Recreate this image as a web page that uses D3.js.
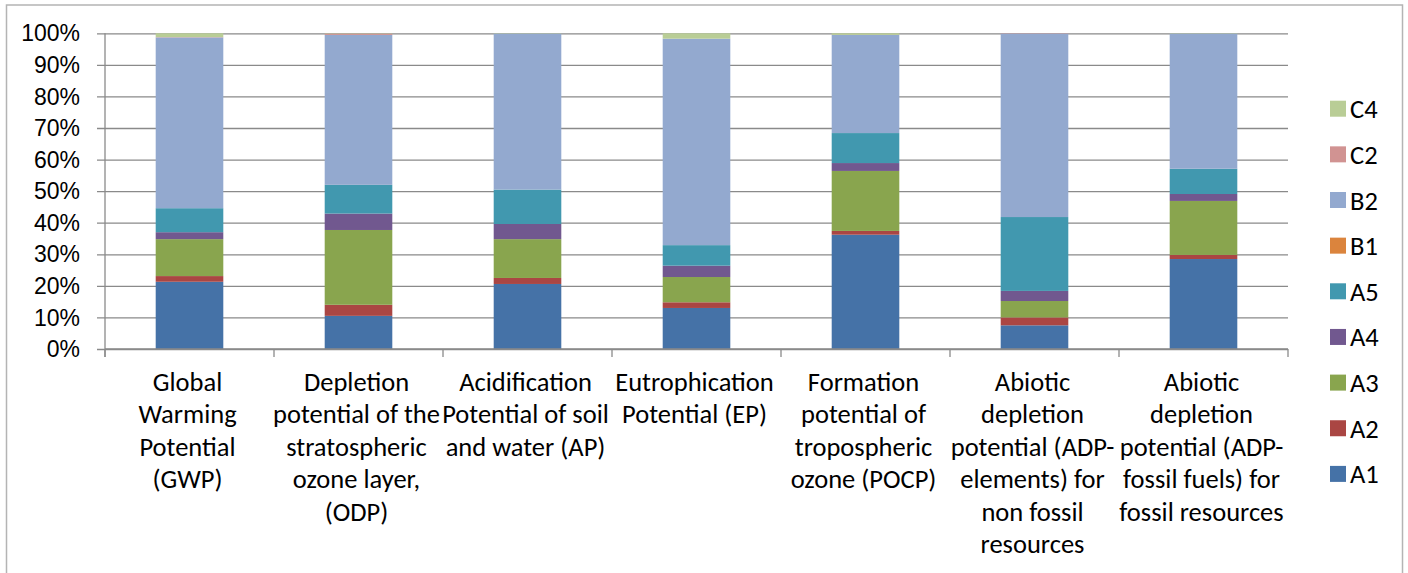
<!DOCTYPE html>
<html>
<head>
<meta charset="utf-8">
<script src="https://cdn.jsdelivr.net/npm/d3@7"></script>
<style>
  html, body { margin: 0; padding: 0; background: #fff; }
  svg { display: block; font-family: Carlito, Calibri, Lato, sans-serif; }
</style>
</head>
<body>
<svg id="chart" width="1408" height="573"></svg>
<script>
// ---- Data ----
const categories = [
  "Global Warming Potential (GWP)",
  "Depletion potential of the stratospheric ozone layer, (ODP)",
  "Acidification Potential of soil and water (AP)",
  "Eutrophication Potential (EP)",
  "Formation potential of tropospheric ozone (POCP)",
  "Abiotic depletion potential (ADP-elements) for non fossil resources",
  "Abiotic depletion potential (ADP-fossil fuels) for fossil resources"
];
const categoryLabelLines = [
  ["Global", "Warming", "Potential", "(GWP)"],
  ["Depletion", "potential of the", "stratospheric", "ozone layer,", "(ODP)"],
  ["Acidification", "Potential of soil", "and water (AP)"],
  ["Eutrophication", "Potential (EP)"],
  ["Formation", "potential of", "tropospheric", "ozone (POCP)"],
  ["Abiotic", "depletion", "potential (ADP-", "elements) for", "non fossil", "resources"],
  ["Abiotic", "depletion", "potential (ADP-", "fossil fuels) for", "fossil resources"]
];
const seriesNames = ["A1", "A2", "A3", "A4", "A5", "B1", "B2", "C2", "C4"];
const seriesColors = ["#4572A7", "#AA4643", "#89A54E", "#71588F", "#4198AF", "#DB843D", "#93A9CF", "#D19392", "#B9CD96"];
// percentage share per category (same order as categories)
const A1 = [21.3, 10.5, 20.6, 13.0, 36.2,  7.5, 28.5];
const A2 = [ 1.8,  3.5,  1.9,  1.8,  1.2,  2.5,  1.3];
const A3 = [11.7, 23.7, 12.3,  8.0, 19.0,  5.2, 17.1];
const A4 = [ 2.2,  5.2,  4.8,  3.6,  2.5,  3.2,  2.2];
const A5 = [ 7.6,  9.1, 10.9,  6.5,  9.5, 23.4,  8.0];
const B1 = [ 0.0,  0.0,  0.0,  0.0,  0.0,  0.0,  0.0];
const B2 = [54.1, 47.5, 49.4, 65.4, 31.1, 58.1, 42.8];
const C2 = [ 0.1,  0.4,  0.0,  0.0,  0.0,  0.1,  0.0];
const C4 = [ 1.2,  0.1,  0.1,  1.7,  0.5,  0.0,  0.1];
const yTickValues = [0, 0.1, 0.2, 0.3, 0.4, 0.5, 0.6, 0.7, 0.8, 0.9, 1.0];

const seriesValues = { A1, A2, A3, A4, A5, B1, B2, C2, C4 };
const table = categories.map((c, i) => {
  const row = { category: c };
  seriesNames.forEach(s => row[s] = seriesValues[s][i]);
  return row;
});

// ---- Layout ----
const svg = d3.select("#chart");
const plot = { left: 105, right: 1288, top: 33.3, bottom: 349 };
const gridColor = "#8a8a8a";
const tickFontSize = 23;
const labelFontSize = 26.5;

// outer frame
svg.append("rect")
  .attr("x", 6.5).attr("y", 5).attr("width", 1396).attr("height", 600)
  .attr("fill", "none").attr("stroke", "#b4b4b4").attr("stroke-width", 1.5);

const x = d3.scaleBand().domain(categories)
  .range([plot.left, plot.right]).paddingInner(0.6).paddingOuter(0.3);
const y = d3.scaleLinear().domain([0, 1]).range([plot.bottom, plot.top]);

const stack = d3.stack().keys(seriesNames).offset(d3.stackOffsetExpand);
const stacked = stack(table);

// Y axis with gridlines
const yAxis = d3.axisLeft(y).tickValues(yTickValues).tickFormat(d3.format(".0%"))
  .tickSize(-(plot.right - plot.left)).tickPadding(18);
const gy = svg.append("g").attr("transform", `translate(${plot.left},0)`).call(yAxis);
gy.select(".domain").remove();
gy.selectAll(".tick line").attr("stroke", gridColor).attr("stroke-width", 1.3)
  .attr("x1", -8);
gy.selectAll(".tick text").attr("font-size", tickFontSize).attr("fill", "#000")
  .attr("dy", "0.33em").attr("x", -25);

// vertical axis line
svg.append("line").attr("x1", plot.left).attr("x2", plot.left)
  .attr("y1", plot.top).attr("y2", plot.bottom + 8)
  .attr("stroke", gridColor).attr("stroke-width", 1.3);

// bars
svg.append("g").selectAll("g").data(stacked).join("g")
  .attr("fill", (d, i) => seriesColors[i])
  .selectAll("rect").data(d => d).join("rect")
  .attr("x", d => x(d.data.category))
  .attr("width", x.bandwidth())
  .attr("y", d => y(d[1]))
  .attr("height", d => Math.max(0, y(d[0]) - y(d[1])));

// X axis
const step = x.step();
const boundaries = d3.range(categories.length + 1).map(i => plot.left + i * step);
svg.append("g").selectAll("line").data(boundaries).join("line")
  .attr("x1", d => d).attr("x2", d => d)
  .attr("y1", plot.bottom).attr("y2", plot.bottom + 8)
  .attr("stroke", gridColor).attr("stroke-width", 1.3);
svg.append("line").attr("x1", plot.left).attr("x2", plot.right)
  .attr("y1", plot.bottom).attr("y2", plot.bottom)
  .attr("stroke", gridColor).attr("stroke-width", 1.3);

const labels = svg.append("g").selectAll("text").data(categories).join("text")
  .attr("text-anchor", "middle").attr("font-size", labelFontSize).attr("fill", "#000")
  .attr("transform", d => `translate(${x(d) + x.bandwidth() / 2 - 2},391)`);
labels.selectAll("tspan").data((d, i) => categoryLabelLines[i]).join("tspan")
  .attr("x", 0).attr("dy", (d, i) => i === 0 ? 0 : 32.4).text(d => d);

// Legend (reverse order, C4 on top)
const legendOrder = seriesNames.map((s, i) => ({ name: s, color: seriesColors[i] })).reverse();
const legend = svg.append("g").selectAll("g").data(legendOrder).join("g")
  .attr("transform", (d, i) => `translate(1330,${108.7 + i * 45.65})`);
legend.append("rect").attr("x", 0).attr("y", -8).attr("width", 16).attr("height", 16)
  .attr("fill", d => d.color);
legend.append("text").attr("x", 20).attr("dy", "0.36em").attr("font-size", labelFontSize)
  .attr("fill", "#000").text(d => d.name);
</script>
</body>
</html>
